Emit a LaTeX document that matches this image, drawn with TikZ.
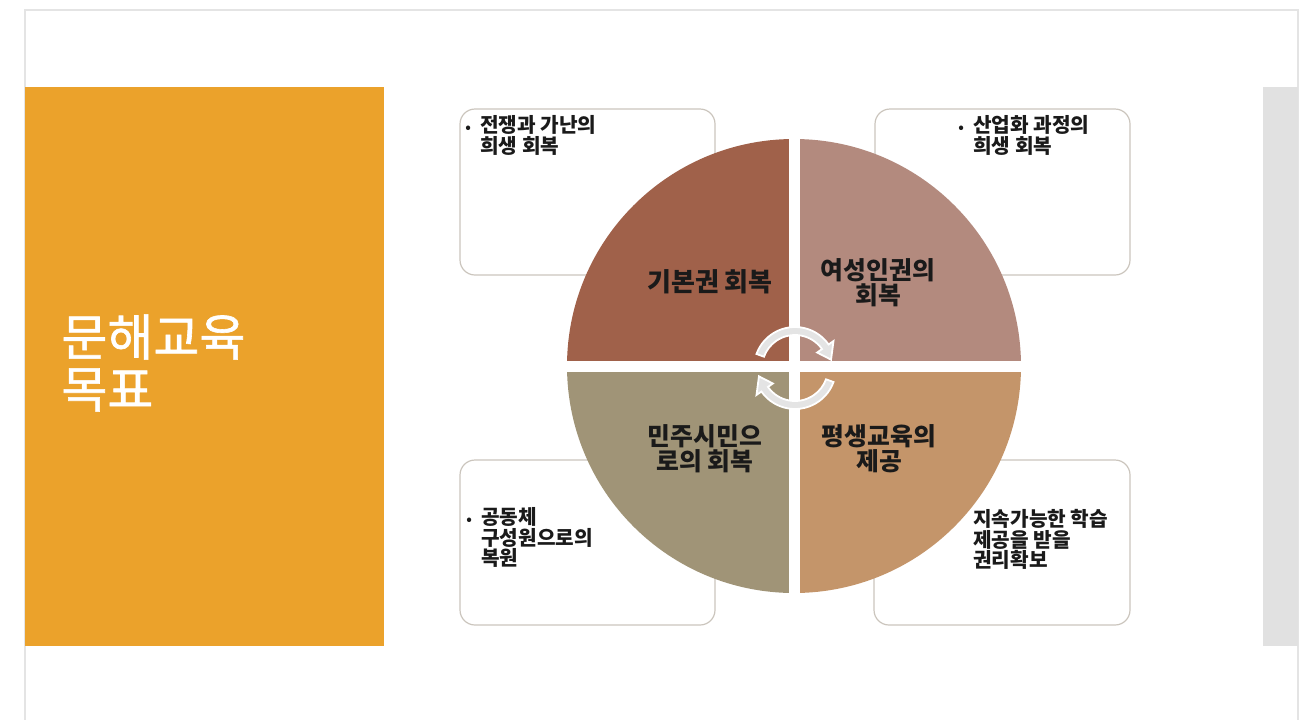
\documentclass[tikz,border=0pt]{standalone}
\usepackage{fontspec}
\setmainfont{Noto Sans CJK KR}
\newfontfamily\titlefont{Noto Sans CJK KR}[FakeBold=1.2]
\usetikzlibrary{calc}

\definecolor{goalorange}{HTML}{EBA22B}
\definecolor{sidegray}{HTML}{E1E1E1}
\definecolor{framegray}{HTML}{E4E4E4}
\definecolor{boxline}{HTML}{CBC5BD}
\definecolor{quadrights}{HTML}{A0614A}
\definecolor{quadwomen}{HTML}{B38A7E}
\definecolor{quadcitizen}{HTML}{A09477}
\definecolor{quadlifelong}{HTML}{C4956A}
\definecolor{arrowgray}{HTML}{E4E4E4}
\definecolor{labelink}{HTML}{1A1A1A}

\tikzset{
  descbox/.style={draw=boxline, line width=0.6pt, rounded corners=7.5pt, fill=white},
  desctext/.style={anchor=north west, align=left, inner sep=0pt,
    font=\fontsize{10.1}{10.3}\selectfont\bfseries, text=labelink},
  quadlabel/.style={align=center, inner sep=0pt,
    font=\fontsize{12.4}{11.6}\selectfont\bfseries, text=labelink},
  cyclearrow/.style={fill=arrowgray, draw=white, line width=0.9pt}
}
\newcommand{\bul}{\makebox[7.5pt][l]{\scriptsize •}}
\newcommand{\nobul}{\hspace*{7.5pt}}

\begin{document}
\begin{tikzpicture}[x=0.5pt, y=-0.5pt]
    \useasboundingbox (0,0) rectangle (1307,719);

    % slide frame, side bars
    \draw[framegray, line width=1pt] (25,730) -- (25,10) -- (1298,10) -- (1298,730);
    \fill[goalorange] (25,87) rectangle (384,646);
    \fill[sidegray] (1263,87) rectangle (1298,646);
    \node[anchor=north west, align=left, inner sep=0pt, text=white,
      font=\titlefont\fontsize{25}{26}\selectfont] (title) at (61,314) {문해교육\\목표};

    % description boxes
    \draw[descbox] (460,109) rectangle (715,275);
    \draw[descbox] (875,109) rectangle (1130,275);
    \draw[descbox] (460,460) rectangle (715,625);
    \draw[descbox] (874,460) rectangle (1130,625);

    \node[desctext] (descrights) at (465,115) {\bul 전쟁과 가난의\\\nobul 희생 회복};
    \node[desctext] (descwomen) at (958,115) {\bul 산업화 과정의\\\nobul 희생 회복};
    \node[desctext] (desccitizen) at (466,507) {\bul 공동체\\\nobul 구성원으로의\\\nobul 복원};
    \node[desctext] (desclifelong) at (973,509) {지속가능한 학습\\제공을 받을\\권리확보};

    % the four quarters
    \coordinate (hub) at (794,366);
    \fill[quadrights] (hub) -- ++(-227,0) arc[start angle=180, end angle=270, radius=227] -- cycle;
    \fill[quadwomen] (hub) -- ++(0,-227) arc[start angle=270, end angle=360, radius=227] -- cycle;
    \fill[quadlifelong] (hub) -- ++(227,0) arc[start angle=0, end angle=90, radius=227] -- cycle;
    \fill[quadcitizen] (hub) -- ++(0,227) arc[start angle=90, end angle=180, radius=227] -- cycle;
    \draw[white, line width=5.5pt] (794,136) -- (794,596);
    \draw[white, line width=5.5pt] (564,366) -- (1024,366);

    \node[quadlabel, font=\fontsize{13}{13}\selectfont\bfseries] (lblrights) at (710,282) {기본권 회복};
    \node[quadlabel] (lblwomen) at (878,283) {여성인권의\\회복};
    \node[quadlabel] (lblcitizen) at (705,449) {민주시민으\\로의 회복};
    \node[quadlabel] (lbllifelong) at (879,449) {평생교육의\\제공};

    % cycle arrows in the middle
    \coordinate (spin) at (795,368);
    \draw[cyclearrow] ($(spin)+(-160:41)$) arc[start angle=-160, end angle=-35, radius=41]
      -- ($(spin)+(-35:47)$) -- ($(spin)+(-13:37)$) -- ($(spin)+(-35:27)$)
      -- ($(spin)+(-35:33)$) arc[start angle=-35, end angle=-160, radius=33] -- cycle;
    \draw[cyclearrow] ($(spin)+(20:41)$) arc[start angle=20, end angle=145, radius=41]
      -- ($(spin)+(145:47)$) -- ($(spin)+(167:37)$) -- ($(spin)+(145:27)$)
      -- ($(spin)+(145:33)$) arc[start angle=145, end angle=20, radius=33] -- cycle;
\end{tikzpicture}
\end{document}
